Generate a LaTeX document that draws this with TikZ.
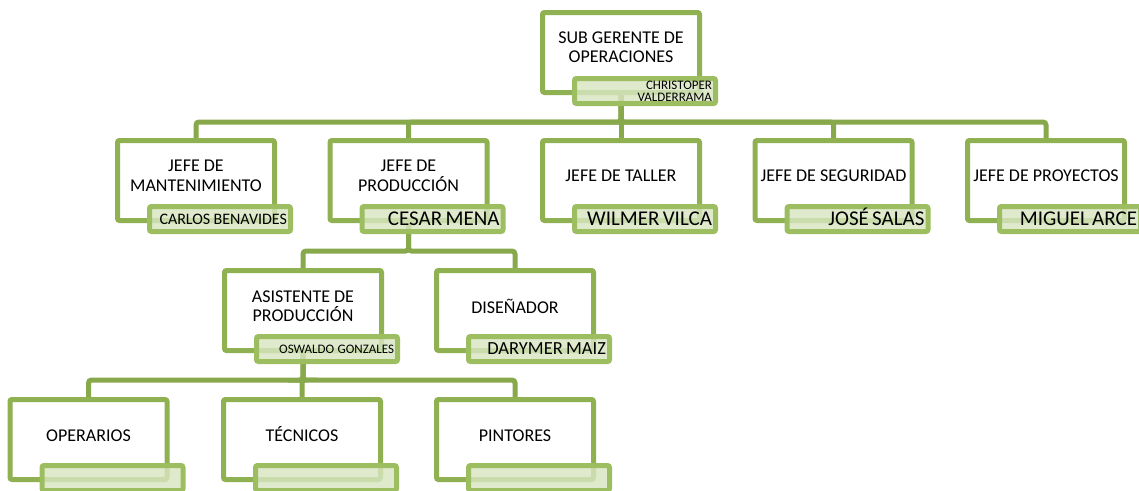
\documentclass[tikz,border=0pt]{standalone}
\usepackage{fontspec}
\setmainfont{Carlito}
\usetikzlibrary{calc,backgrounds}
\definecolor{boxgreen}{RGB}{143,177,82}
\definecolor{conngreen}{RGB}{136,168,76}
\definecolor{namegreen}{RGB}{157,190,96}
\definecolor{namefill}{RGB}{216,229,193}
\tikzset{
  mainbox/.style={draw=boxgreen, line width=5pt, fill=white, rounded corners=2pt,
    minimum width=157pt, minimum height=80pt, inner sep=0pt},
  titletext/.style={align=center, font=\fontsize{18}{19.5}\selectfont, inner sep=0pt, text=black},
  namebox/.style={draw=namegreen, line width=5pt, fill=namefill, fill opacity=0.82, text opacity=1,
    rounded corners=2pt, minimum width=141pt, minimum height=25pt, inner xsep=3.5pt, inner ysep=0pt,
    text width=134pt, align=right, text=black},
  conn/.style={draw=conngreen, line width=5pt, rounded corners=3pt},
}
\newcommand\nfont[1]{\fontsize{#1}{#1}\selectfont}
\begin{document}
\begin{tikzpicture}[x=1pt,y=-1pt]
\useasboundingbox (0,0) rectangle (1139,490);
% top
\node[mainbox] (top) at (621,52.5) {};
\node[titletext] (topt) at ([yshift=5.5pt]top.center) {SUB GERENTE DE\\OPERACIONES};
\node[namebox] (topn) at ($(top.center)+(24,38.5)$) {\fontsize{13}{12.5}\selectfont CHRISTOPER\\VALDERRAMA};
% level 1
\node[mainbox] (mant) at (196,180.5) {};
\node[titletext] (mantt) at ([yshift=4.5pt]mant.center) {JEFE DE\\MANTENIMIENTO};
\node[namebox] (mantn) at ($(mant.center)+(24,38.5)$) {\nfont{16}CARLOS BENAVIDES};
\node[mainbox] (prod) at (408.5,180.5) {};
\node[titletext] (prodt) at ([yshift=4.5pt]prod.center) {JEFE DE\\PRODUCCIÓN};
\node[namebox] (prodn) at ($(prod.center)+(24,38.5)$) {\nfont{21}CESAR MENA};
\node[mainbox] (tall) at (621,180.5) {};
\node[titletext] (tallt) at ([yshift=4.5pt]tall.center) {JEFE DE TALLER};
\node[namebox] (talln) at ($(tall.center)+(24,38.5)$) {\nfont{21}WILMER VILCA};
\node[mainbox] (segu) at (833.5,180.5) {};
\node[titletext] (segut) at ([yshift=4.5pt]segu.center) {JEFE DE SEGURIDAD};
\node[namebox] (segun) at ($(segu.center)+(24,38.5)$) {\nfont{21}\vphantom{JOSE}\smash{JOSÉ} SALAS};
\node[mainbox] (proy) at (1046,180.5) {};
\node[titletext] (proyt) at ([yshift=4.5pt]proy.center) {JEFE DE PROYECTOS};
\node[namebox] (proyn) at ($(proy.center)+(24,38.5)$) {\nfont{21}MIGUEL ARCE};
% level 2
\node[mainbox] (asis) at (303,310.5) {};
\node[titletext] (asist) at ([yshift=4.5pt]asis.center) {ASISTENTE DE\\PRODUCCIÓN};
\node[namebox] (asisn) at ($(asis.center)+(24,38.5)$) {\nfont{13}OSWALDO GONZALES};
\node[mainbox] (dise) at (515,310.5) {};
\node[titletext] (diset) at ([yshift=4.5pt]dise.center) {DISEÑADOR};
\node[namebox] (disen) at ($(dise.center)+(24,38.5)$) {\nfont{18.5}DARYMER MAIZ};
% level 3
\node[mainbox] (oper) at (88.5,439.5) {};
\node[titletext] (opert) at ([yshift=3.5pt]oper.center) {OPERARIOS};
\node[namebox] (opern) at ($(oper.center)+(24,38.5)$) {};
\node[mainbox] (tecn) at (302,439.5) {};
\node[titletext] (tecnt) at ([yshift=3.5pt]tecn.center) {\vphantom{T}\smash{TÉCNICOS}};
\node[namebox] (tecnn) at ($(tecn.center)+(24,38.5)$) {};
\node[mainbox] (pint) at (515,439.5) {};
\node[titletext] (pintt) at ([yshift=3.5pt]pint.center) {PINTORES};
\node[namebox] (pintn) at ($(pint.center)+(24,38.5)$) {};
% connectors
\coordinate (r1) at (0,122);
\coordinate (r2) at (0,251);
\coordinate (r3) at (0,380);
\begin{scope}[on background layer]
\foreach \c in {mant,prod,tall,segu,proy}
  \draw[conn] (top.center) |- (r1 -| \c.center) -- (\c.center);
\foreach \c in {asis,dise}
  \draw[conn] (prod.center) |- (r2 -| \c.center) -- (\c.center);
\foreach \c in {oper,tecn,pint}
  \draw[conn] (asis.center) |- (r3 -| \c.center) -- (\c.center);
\end{scope}
\end{tikzpicture}
\end{document}
